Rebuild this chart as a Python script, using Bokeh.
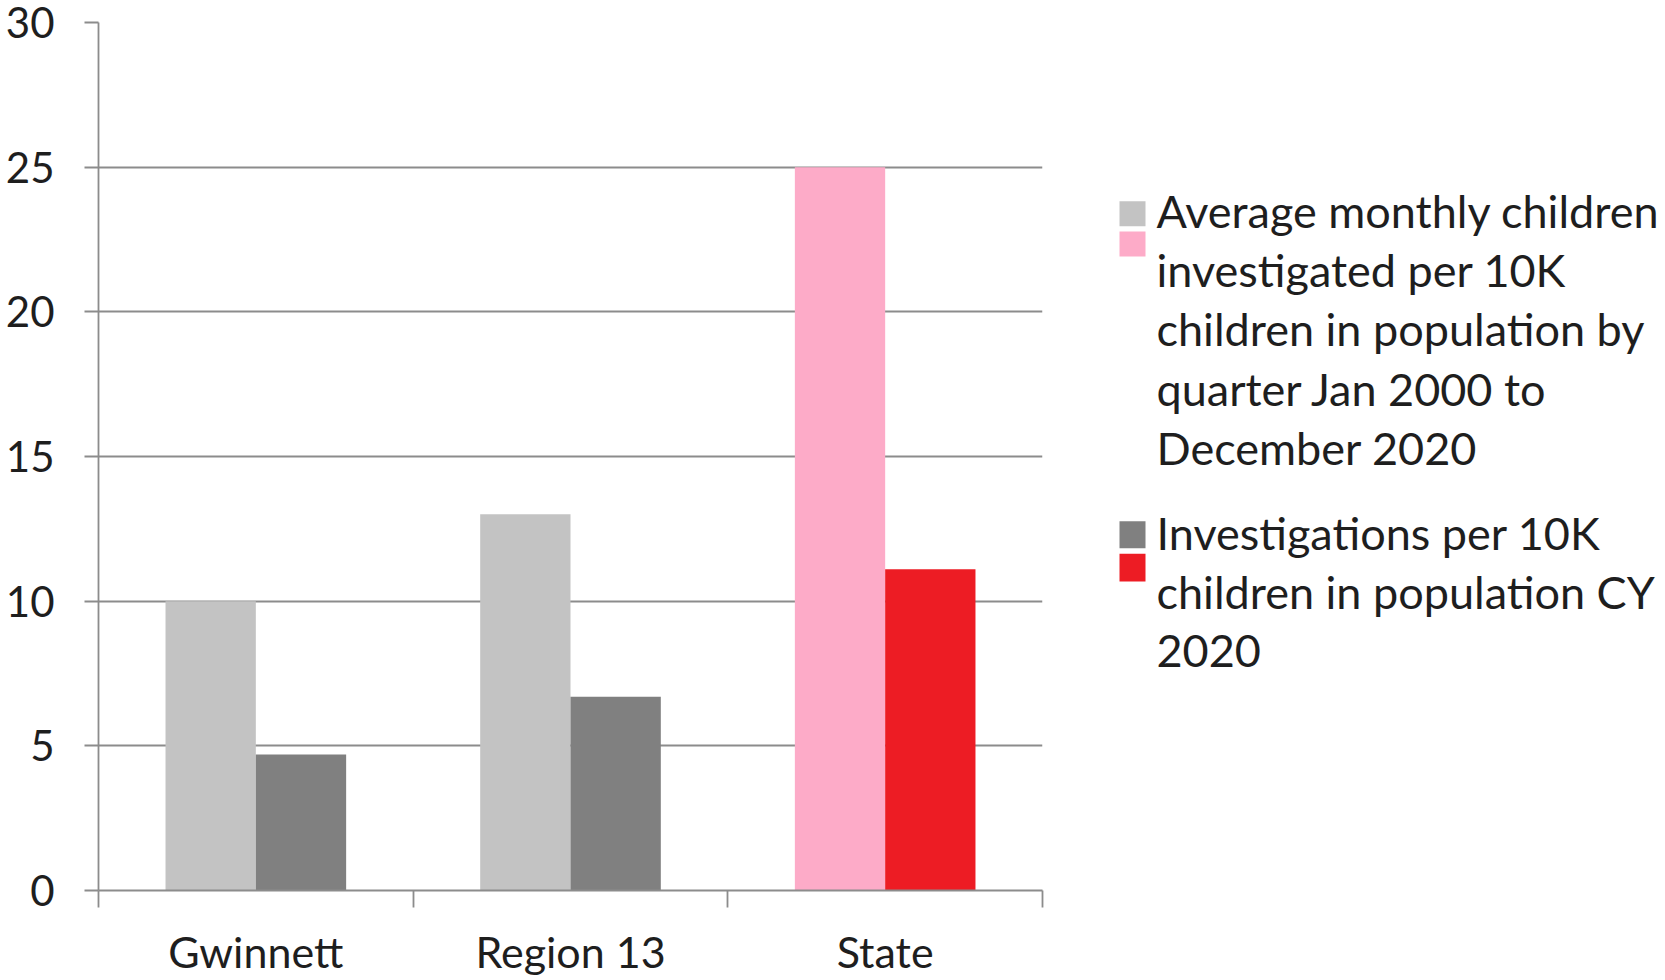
from bokeh.plotting import figure
from bokeh.layouts import row
from bokeh.models import ColumnDataSource, Range1d, FixedTicker
from bokeh.core.properties import value
from bokeh.transform import dodge
from bokeh.embed import file_html
from bokeh.resources import INLINE

# ---- data ----
categories = ["Gwinnett", "Region 13", "State"]
avg_monthly = [10.0, 13.0, 25.0]
investigations = [4.7, 6.7, 11.1]
y_ticks = [0, 5, 10, 15, 20, 25, 30]
legend_avg = ["Average monthly children", "investigated per 10K",
              "children in population by", "quarter Jan 2000 to", "December 2020"]
legend_inv = ["Investigations per 10K", "children in population CY", "2020"]

# ---- styles ----
avg_colors = ["#c3c3c3", "#c3c3c3", "#fdabc8"]
inv_colors = ["#808080", "#808080", "#ed1c24"]
FONT = "Lato"
FS_Y = "42px"
FS_X = "43px"
LFS = "45px"
TXT = "#1e1e1e"
AX = "#8c8c8c"

W_MAIN, W_LEG, H = 1060, 605, 980
B_TOP, B_BOTTOM = 22, 90

centers = [i + 0.5 for i in range(len(categories))]
src = ColumnDataSource(dict(x=centers, avg=avg_monthly, inv=investigations,
                            avg_c=avg_colors, inv_c=inv_colors))

p = figure(width=W_MAIN, height=H, output_backend="svg", toolbar_location=None,
           x_range=Range1d(0, len(categories)), y_range=Range1d(0, 30),
           min_border_left=98, min_border_right=18, min_border_top=B_TOP,
           min_border_bottom=B_BOTTOM)
p.outline_line_color = None

BW = 0.287
p.vbar(x=dodge("x", -BW / 2, range=p.x_range), top="avg", width=BW,
       source=src, fill_color="avg_c", line_color=None)
p.vbar(x=dodge("x", BW / 2, range=p.x_range), top="inv", width=BW,
       source=src, fill_color="inv_c", line_color=None)

# x axis: labels centred, ticks at category boundaries
p.xaxis.ticker = FixedTicker(ticks=centers,
                             minor_ticks=list(range(len(categories) + 1)))
p.xaxis.major_label_overrides = {c: n for c, n in zip(centers, categories)}
p.xaxis.major_tick_out = 0
p.xaxis.major_tick_in = 0
p.xaxis.minor_tick_out = 17
p.xaxis.minor_tick_in = 0
p.xaxis.minor_tick_line_color = AX
p.xaxis.minor_tick_line_width = 1.8
p.xaxis.major_label_standoff = 18
p.xaxis.major_label_text_font_size = FS_X
p.xaxis.major_label_text_line_height = 1.0
p.xgrid.visible = False

p.yaxis.ticker = FixedTicker(ticks=y_ticks, minor_ticks=[])
p.yaxis.major_tick_out = 14
p.yaxis.major_tick_in = 0
p.yaxis.major_tick_line_color = AX
p.yaxis.major_tick_line_width = 1.8
p.yaxis.major_label_standoff = 30
p.yaxis.major_label_text_line_height = 1.0
p.yaxis.major_label_text_font_size = FS_Y
p.ygrid.grid_line_color = AX
p.ygrid.grid_line_width = 1.8

for ax in (p.xaxis, p.yaxis):
    ax.axis_line_color = AX
    ax.axis_line_width = 1.8
    ax.major_label_text_font = FONT
    ax.major_label_text_color = TXT

# ---- legend panel (page pixel coordinates; its frame lines up with the chart frame) ----
leg = figure(width=W_LEG, height=H, output_backend="svg", toolbar_location=None,
             x_range=Range1d(W_MAIN, W_MAIN + W_LEG),
             y_range=Range1d(H - B_BOTTOM, B_TOP),
             x_axis_location=None, y_axis_location=None,
             min_border=0, min_border_left=0, min_border_right=0,
             min_border_top=B_TOP, min_border_bottom=B_BOTTOM)
leg.outline_line_color = None
leg.grid.visible = False

SQ_L, SQ_R = 1119, 1145
leg.quad(left=[SQ_L] * 4, right=[SQ_R] * 4,
         top=[200.7, 231.0, 520.7, 553.3], bottom=[225.7, 256.0, 547.7, 581.0],
         fill_color=[avg_colors[0], avg_colors[2], inv_colors[0], inv_colors[2]],
         line_color=None)

TX = 1156
ys_avg = [210 + i * 59.4 for i in range(len(legend_avg))]
ys_inv = [532.7 + i * 58.7 for i in range(len(legend_inv))]
leg.text(x=[TX] * (len(legend_avg) + len(legend_inv)), y=ys_avg + ys_inv,
         text=legend_avg + legend_inv, text_font=value(FONT),
         text_font_size=LFS, text_color=TXT, text_baseline="alphabetic",
         text_align="left")

layout = row(p, leg, spacing=0)
open("out.html", "w").write(file_html(layout, INLINE))
